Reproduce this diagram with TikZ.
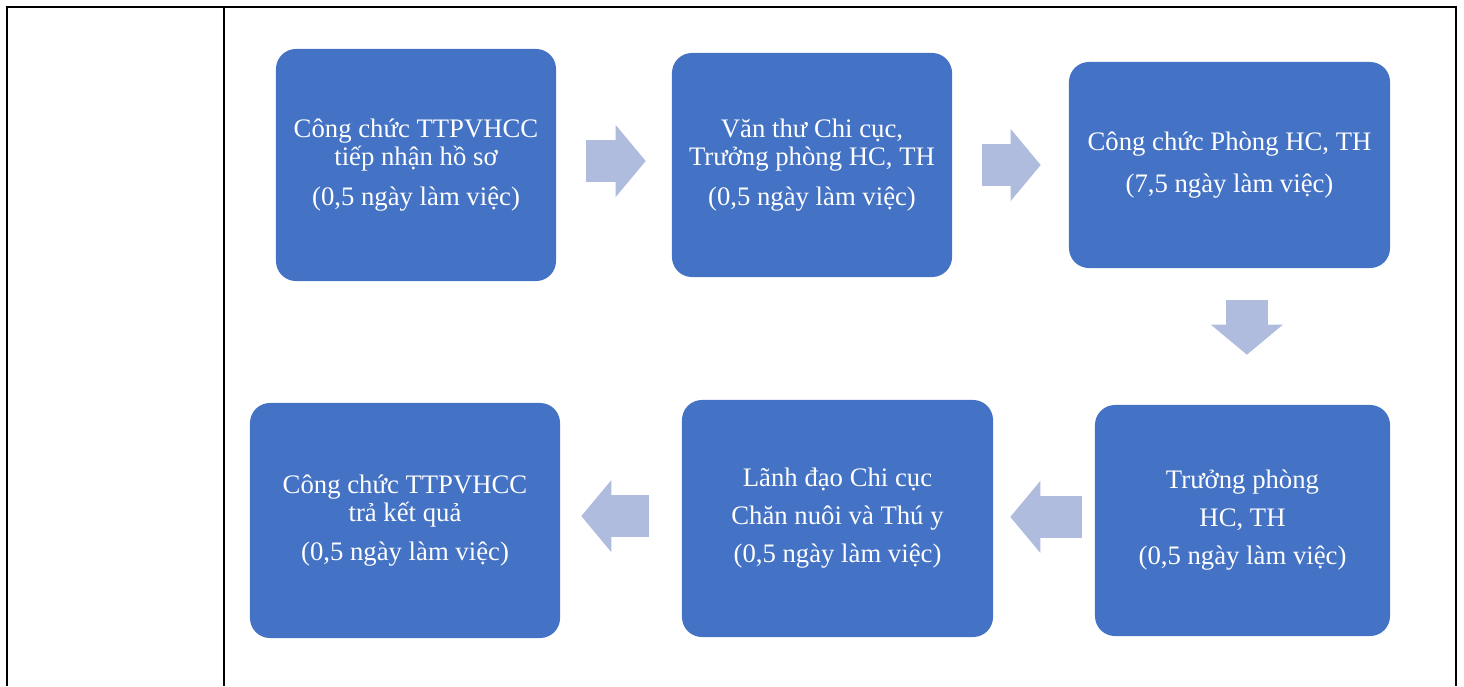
\documentclass[tikz,border=0pt]{standalone}
\usepackage{fontspec}
\setmainfont{Liberation Serif}
\usetikzlibrary{arrows.meta}
\definecolor{boxblue}{RGB}{68,114,196}
\definecolor{arrowblue}{RGB}{175,188,221}

\tikzset{
  taskbox/.style={fill=boxblue, text=white, rounded corners=0.5cm, align=center, inner sep=0pt,
    font=\fontsize{19pt}{20pt}\selectfont},
  flowarrow/.style={draw=arrowblue, line width=1.05cm,
    -{Triangle[width=1.8cm, length=0.75cm, line width=0pt, fill=arrowblue]}},
  tableline/.style={draw=black, line width=1.3pt}
}

\begin{document}
\begin{tikzpicture}[x=0.025cm, y=-0.025cm]
    \useasboundingbox (0,0) rectangle (1464,686);

    \draw[tableline] (7,686) -- (7,7) -- (1456,7) -- (1456,686);
    \draw[tableline] (224,7) -- (224,686);

    \node[taskbox, minimum width=7cm, minimum height=5.8cm] (b1) at (416,165)
      {Công chức TTPVHCC\\tiếp nhận hồ sơ\\[8pt](0,5 ngày làm việc)};
    \node[taskbox, minimum width=7cm, minimum height=5.6cm] (b2) at (812,165)
      {Văn thư Chi cục,\\Trưởng phòng HC, TH\\[8pt](0,5 ngày làm việc)};
    \node[taskbox, minimum width=8.025cm, minimum height=5.15cm] (b3) at (1229.5,165)
      {Công chức Phòng HC, TH\\[10pt](7,5 ngày làm việc)};

    \node[taskbox, minimum width=7.375cm, minimum height=5.775cm] (b4) at (1242.5,520.5)
      {Trưởng phòng\\[7pt]HC, TH\\[7pt](0,5 ngày làm việc)};
    \node[taskbox, minimum width=7.775cm, minimum height=5.925cm] (b5) at (837.5,518.5)
      {Lãnh đạo Chi cục\\[7pt]Chăn nuôi và Thú y\\[7pt](0,5 ngày làm việc)};
    \node[taskbox, minimum width=7.75cm, minimum height=5.875cm] (b6) at (405,520.5)
      {Công chức TTPVHCC\\trả kết quả\\[8pt](0,5 ngày làm việc)};

    \draw[flowarrow, shorten <=0.75cm, shorten >=0.65cm] ([yshift=0.1cm]b1.east) -- ([yshift=0.1cm]b2.west);
    \draw[flowarrow, shorten <=0.75cm, shorten >=0.7cm] (b2.east) -- (b3.west);
    \draw[flowarrow, shorten <=0.8cm, shorten >=1.25cm] ([xshift=0.11cm]b4.north |- b3.south) -- ([xshift=0.11cm]b4.north);
    \draw[flowarrow, shorten <=0.325cm, shorten >=0.425cm] ([yshift=0.09cm]b4.west) -- ([yshift=0.09cm]b4.west -| b5.east);
    \draw[flowarrow, shorten <=0.825cm, shorten >=0.525cm] ([yshift=0.06cm]b5.west) -- ([yshift=0.06cm]b5.west -| b6.east);
\end{tikzpicture}
\end{document}
